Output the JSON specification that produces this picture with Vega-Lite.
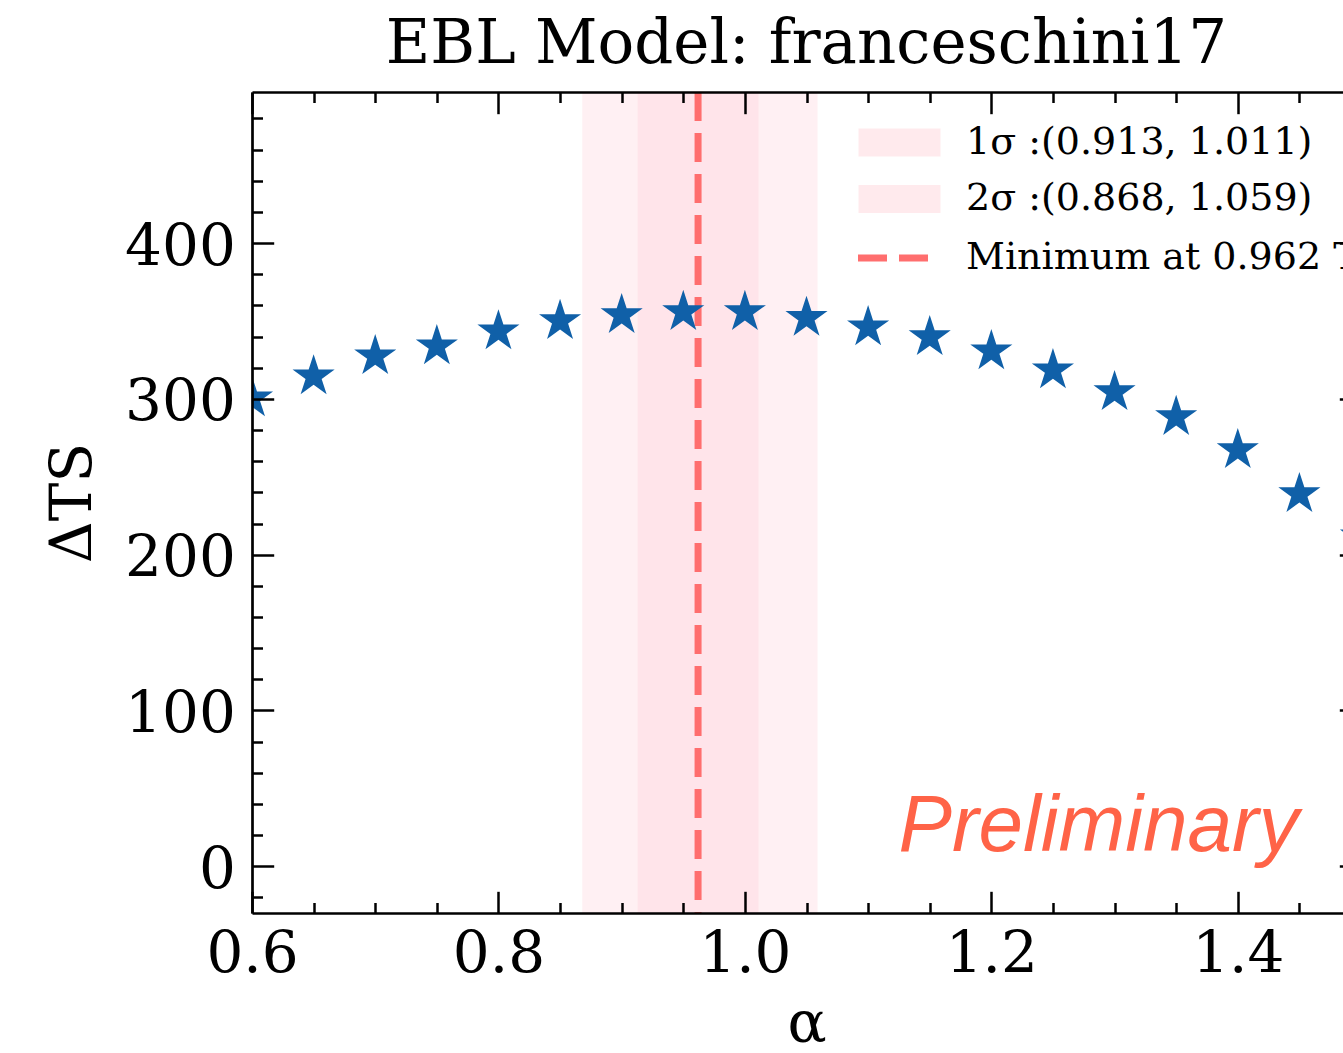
{
  "$schema": "https://vega.github.io/schema/vega-lite/v6.json",
  "width": 1109,
  "height": 821,
  "autosize": "none",
  "padding": {"left": 252, "top": 92, "right": -18, "bottom": 140},
  "background": "white",
  "title": {"text": "EBL Model: franceschini17", "font": "DejaVu Serif", "fontSize": 61, "fontWeight": "normal", "color": "black", "anchor": "middle", "baseline": "alphabetic", "offset": -35},
  "config": {"view": {"stroke": null}},
  "datasets": {
    "stars": [
      {"alpha": 0.6, "ts": 300.4},
      {"alpha": 0.65, "ts": 314.5},
      {"alpha": 0.7, "ts": 327.4},
      {"alpha": 0.75, "ts": 333.8},
      {"alpha": 0.8, "ts": 343.4},
      {"alpha": 0.85, "ts": 350.0},
      {"alpha": 0.9, "ts": 353.8},
      {"alpha": 0.95, "ts": 355.8},
      {"alpha": 1.0, "ts": 355.8},
      {"alpha": 1.05, "ts": 352.0},
      {"alpha": 1.1, "ts": 346.0},
      {"alpha": 1.15, "ts": 339.6},
      {"alpha": 1.2, "ts": 330.6},
      {"alpha": 1.25, "ts": 318.4},
      {"alpha": 1.3, "ts": 304.3},
      {"alpha": 1.35, "ts": 288.4},
      {"alpha": 1.4, "ts": 267.1},
      {"alpha": 1.45, "ts": 238.9},
      {"alpha": 1.5, "ts": 211.7}
    ],
    "bands": [
      {"label": "2σ :(0.868, 1.059)", "lo": 0.868, "hi": 1.059},
      {"label": "1σ :(0.913, 1.011)", "lo": 0.913, "hi": 1.011}
    ],
    "minline": [
      {"label": "Minimum at 0.962 TS", "xv": 0.962}
    ],
    "note": [
      {"x": 1.1247, "y": 10.1, "t": "Preliminary"}
    ]
  },
  "layer": [
    {
      "data": {"name": "bands"},
      "mark": {"type": "rect", "opacity": 0.24},
      "encoding": {
        "x": {"field": "lo", "type": "quantitative", "scale": {"domain": [0.6, 1.5], "nice": false, "zero": false}, "axis": null},
        "x2": {"field": "hi"},
        "color": {
          "field": "label", "type": "nominal",
          "scale": {"domain": ["1σ :(0.913, 1.011)", "2σ :(0.868, 1.059)"], "range": ["#ffc0cb", "#ffc0cb"]},
          "legend": {
            "orient": "none", "legendX": 627, "legendY": 30, "title": null, "padding": 0,
            "symbolType": "M-2,-0.68H2V0.68H-2Z",
            "symbolSize": 1681, "symbolStrokeWidth": 0, "symbolOpacity": 0.34,
            "labelFont": "DejaVu Serif", "labelFontSize": 38, "labelColor": "black", "labelOffset": 46, "labelLimit": 0,
            "rowPadding": 16.5
          }
        }
      }
    },
    {
      "data": {"name": "minline"},
      "mark": {"type": "rule", "strokeWidth": 7, "color": "#ff6e6e"},
      "encoding": {
        "x": {"field": "xv", "type": "quantitative", "scale": {"domain": [0.6, 1.5], "nice": false, "zero": false}, "axis": null},
        "strokeDash": {
          "field": "label", "type": "nominal",
          "scale": {"domain": ["Minimum at 0.962 TS"], "range": [[29, 12]]},
          "legend": {
            "orient": "none", "legendX": 623, "legendY": 142, "title": null, "padding": 0,
            "symbolType": "M-2,0H2",
            "symbolSize": 1681, "symbolStrokeWidth": 7, "symbolStrokeColor": "#ff6e6e", "symbolOpacity": 1,
            "labelFont": "DejaVu Serif", "labelFontSize": 38, "labelColor": "black", "labelOffset": 43, "labelLimit": 0
          }
        }
      }
    },
    {
      "data": {"name": "stars"},
      "mark": {"type": "point", "shape": "M0,-1L0.2245,-0.309L0.9511,-0.309L0.3633,0.118L0.5878,0.809L0,0.382L-0.5878,0.809L-0.3633,0.118L-0.9511,-0.309L-0.2245,-0.309Z", "filled": true, "size": 1960, "color": "#1060a8", "opacity": 1, "clip": true},
      "encoding": {
        "x": {
          "field": "alpha", "type": "quantitative",
          "scale": {"domain": [0.6, 1.5], "nice": false, "zero": false},
          "axis": {
            "orient": "bottom",
            "values": [0.6, 0.65, 0.7, 0.75, 0.8, 0.85, 0.9, 0.95, 1.0, 1.05, 1.1, 1.15, 1.2, 1.25, 1.3, 1.35, 1.4, 1.45, 1.5],
            "tickSize": {"condition": {"test": "abs(datum.value*5 - round(datum.value*5)) < 0.001", "value": -21.7}, "value": -10.5},
            "tickWidth": 2.5, "tickColor": "black",
            "domainColor": "black", "domainWidth": 2.7,
            "labelExpr": "abs(datum.value*5 - round(datum.value*5)) < 0.001 ? format(datum.value, '.1f') : ''",
            "labelFont": "DejaVu Serif", "labelFontSize": 58, "labelColor": "black", "labelPadding": 34,
            "labelFlush": false, "labelOverlap": false, "labelBound": false,
            "grid": false,
            "title": "α", "titleFont": "DejaVu Serif", "titleFontSize": 58, "titleFontWeight": "normal", "titleColor": "black", "titlePadding": 1,
            "zindex": 1
          }
        },
        "y": {
          "field": "ts", "type": "quantitative",
          "scale": {"domain": [-30, 497], "nice": false, "zero": false},
          "axis": {
            "orient": "left",
            "values": [-20, 0, 20, 40, 60, 80, 100, 120, 140, 160, 180, 200, 220, 240, 260, 280, 300, 320, 340, 360, 380, 400, 420, 440, 460, 480],
            "tickSize": {"condition": {"test": "datum.value % 100 === 0", "value": -21.7}, "value": -10.5},
            "tickWidth": 2.5, "tickColor": "black",
            "domainColor": "black", "domainWidth": 2.7,
            "labelExpr": "datum.value % 100 === 0 ? format(datum.value, 'd') : ''",
            "labelFont": "DejaVu Serif", "labelFontSize": 58, "labelColor": "black", "labelPadding": 38.4, "labelOffset": 4,
            "labelFlush": false, "labelOverlap": false, "labelBound": false,
            "grid": false,
            "title": "ΔTS", "titleFont": "DejaVu Serif", "titleFontSize": 58, "titleFontWeight": "normal", "titleColor": "black", "titlePadding": 22,
            "zindex": 1
          }
        }
      }
    },
    {
      "data": {"name": "note"},
      "mark": {"type": "text", "font": "Liberation Sans", "fontStyle": "italic", "fontSize": 80, "color": "#ff6347", "align": "left", "baseline": "alphabetic"},
      "encoding": {
        "x": {"field": "x", "type": "quantitative", "scale": {"domain": [0.6, 1.5], "nice": false, "zero": false}, "axis": null},
        "y": {"field": "y", "type": "quantitative", "scale": {"domain": [-30, 497], "nice": false, "zero": false}, "axis": null},
        "text": {"field": "t"}
      }
    },
    {
      "data": {"name": "stars"},
      "mark": {"type": "point", "opacity": 0},
      "encoding": {
        "x": {
          "field": "alpha", "type": "quantitative",
          "scale": {"domain": [0.6, 1.5], "nice": false, "zero": false},
          "axis": {
            "orient": "top",
            "values": [0.6, 0.65, 0.7, 0.75, 0.8, 0.85, 0.9, 0.95, 1.0, 1.05, 1.1, 1.15, 1.2, 1.25, 1.3, 1.35, 1.4, 1.45, 1.5],
            "tickSize": {"condition": {"test": "abs(datum.value*5 - round(datum.value*5)) < 0.001", "value": -21.7}, "value": -10.5},
            "tickWidth": 2.5, "tickColor": "black",
            "domainColor": "black", "domainWidth": 2.7,
            "labels": false, "grid": false, "title": null, "zindex": 1
          }
        },
        "y": {
          "field": "ts", "type": "quantitative",
          "scale": {"domain": [-30, 497], "nice": false, "zero": false},
          "axis": {
            "orient": "right",
            "values": [-20, 0, 20, 40, 60, 80, 100, 120, 140, 160, 180, 200, 220, 240, 260, 280, 300, 320, 340, 360, 380, 400, 420, 440, 460, 480],
            "tickSize": {"condition": {"test": "datum.value % 100 === 0", "value": -21.7}, "value": -10.5},
            "tickWidth": 2.5, "tickColor": "black",
            "domainColor": "black", "domainWidth": 2.7,
            "labels": false, "grid": false, "title": null, "zindex": 1
          }
        }
      }
    }
  ],
  "resolve": {"axis": {"x": "independent", "y": "independent"}}
}
